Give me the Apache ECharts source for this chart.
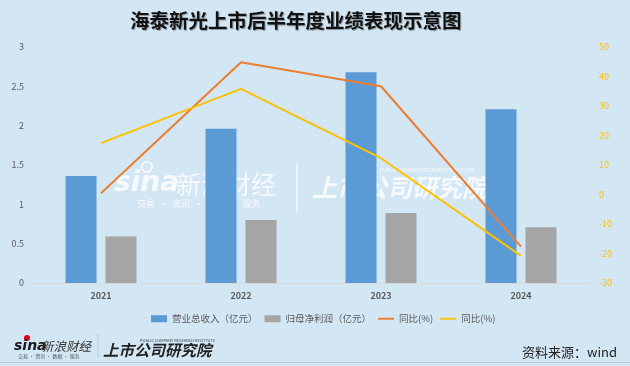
<!DOCTYPE html>
<html>
<head>
<meta charset="utf-8">
<script src="https://cdn.jsdelivr.net/npm/echarts@6/dist/echarts.min.js"></script>
<style>
html,body{margin:0;padding:0;background:#d3e6f4;}
#c{width:630px;height:366px;}
</style>
</head>
<body>
<div id="c"></div>
<script>
var categories = ['2021', '2022', '2023', '2024'];
var revenue = [1.36, 1.96, 2.68, 2.21];
var netProfit = [0.59, 0.80, 0.89, 0.71];
var revenueYoY = [0.4, 44.8, 36.7, -17.7];
var profitYoY = [17.4, 35.8, 12.3, -20.8];
var seriesNames = ['营业总收入（亿元）', '归母净利润（亿元）', '同比(%)', '同比(%) '];
var titleText = '海泰新光上市后半年度业绩表现示意图';
var sourceText = '资料来源：wind';

var FONT = '"Noto Sans CJK SC", "Noto Sans", sans-serif';
var wm = 'rgba(255,255,255,0.8)';
var lineIcon = 'path://M0,0 L17,0 L17,2 L0,2 Z';
var chart = echarts.init(document.getElementById('c'));
chart.setOption({
  backgroundColor: '#d3e6f4',
  textStyle: {fontFamily: FONT},
  title: {
    text: titleText, left: 125, top: 6,
    textStyle: {fontSize: 19.5, fontWeight: 'bold', color: '#111', fontFamily: FONT,
      textShadowColor: 'rgba(0,0,0,0.35)', textShadowBlur: 1, textShadowOffsetX: 1, textShadowOffsetY: 1}
  },
  grid: {left: 31, right: 39, top: 47, bottom: 83},
  legend: {
    left: 146, top: 309, itemWidth: 16, itemHeight: 7, itemGap: 7, symbolKeepAspect: true,
    textStyle: {fontSize: 9.5, color: '#595959', fontFamily: FONT},
    data: [
      {name: seriesNames[0], icon: 'rect'},
      {name: seriesNames[1], icon: 'rect'},
      {name: seriesNames[2], icon: lineIcon},
      {name: seriesNames[3], icon: lineIcon}
    ]
  },
  xAxis: {
    type: 'category', data: categories,
    axisLine: {lineStyle: {color: '#d9d9d9', width: 1}},
    axisTick: {show: false},
    axisLabel: {fontSize: 9, fontWeight: 'bold', color: '#595959', margin: 8}
  },
  yAxis: [
    {type: 'value', min: 0, max: 3, interval: 0.5,
      axisLine: {show: false}, axisTick: {show: false}, splitLine: {show: false},
      axisLabel: {fontSize: 9, color: '#595959', margin: 7}},
    {type: 'value', min: -30, max: 50, interval: 10,
      axisLine: {show: false}, axisTick: {show: false}, splitLine: {show: false},
      axisLabel: {fontSize: 9, color: '#ffc000', margin: 8}}
  ],
  series: [
    {name: seriesNames[0], type: 'bar', data: revenue, barWidth: 31, barGap: '29%',
      itemStyle: {color: '#5b9bd5'}, z: 2},
    {name: seriesNames[1], type: 'bar', data: netProfit, barWidth: 31,
      itemStyle: {color: '#a5a5a5'}, z: 2},
    {name: seriesNames[2], type: 'line', yAxisIndex: 1, data: revenueYoY, symbol: 'none', showSymbol: false,
      lineStyle: {color: '#ed7d31', width: 2}, itemStyle: {color: '#ed7d31'}, z: 3},
    {name: seriesNames[3], type: 'line', yAxisIndex: 1, data: profitYoY, symbol: 'none', showSymbol: false,
      lineStyle: {color: '#ffc000', width: 2}, itemStyle: {color: '#ffc000'}, z: 3}
  ],
  graphic: [
    // watermark (behind series)
    {type: 'circle', z: 0, shape: {cx: 147, cy: 167, r: 5}, style: {fill: 'none', stroke: wm, lineWidth: 2}},
    {type: 'text', z: 0, x: 114, y: 184, style: {text: 'sina', fontSize: 28, fontWeight: 'bold', fontStyle: 'italic', fontFamily: '"DejaVu Sans", sans-serif', fill: wm, textVerticalAlign: 'middle'}},
    {type: 'text', z: 0, x: 176, y: 184, style: {text: '新浪财经', fontSize: 25, fontFamily: FONT, fill: wm, textVerticalAlign: 'middle'}},
    {type: 'text', z: 0, x: 137, y: 204, style: {text: '交易  ·  资讯  ·  数据  ·  服务', fontSize: 9, fontFamily: FONT, fill: wm, textVerticalAlign: 'middle'}},
    {type: 'line', z: 0, shape: {x1: 297, y1: 163, x2: 297, y2: 212}, style: {stroke: wm, lineWidth: 1.5}},
    {type: 'text', z: 0, x: 312, y: 187, style: {text: '上市公司研究院', fontSize: 25, fontWeight: 'bold', fontStyle: 'italic', fontFamily: FONT, fill: wm, textVerticalAlign: 'middle'}},
    {type: 'text', z: 0, x: 380, y: 170, style: {text: 'PUBLIC COMPANY RESEARCH INSTITUTE', fontSize: 5, fontFamily: FONT, fill: wm, textVerticalAlign: 'middle'}},
    // footer
    {type: 'circle', shape: {cx: 27, cy: 338, r: 3}, style: {fill: '#e60012'}},
    {type: 'text', x: 14, y: 346, style: {text: 'sina', fontSize: 14, fontWeight: 'bold', fontStyle: 'italic', fontFamily: '"DejaVu Sans", sans-serif', fill: '#1a1a1a', textVerticalAlign: 'middle'}},
    {type: 'text', x: 41, y: 346, style: {text: '新浪财经', fontSize: 12.5, fontStyle: 'italic', fontFamily: FONT, fill: '#333', textVerticalAlign: 'middle'}},
    {type: 'text', x: 18, y: 356, style: {text: '交易 · 资讯 · 数据 · 服务', fontSize: 5, fontFamily: FONT, fill: '#555', textVerticalAlign: 'middle'}},
    {type: 'line', shape: {x1: 98, y1: 334, x2: 98, y2: 358}, style: {stroke: '#b9c9d6', lineWidth: 1}},
    {type: 'text', x: 103, y: 350, style: {text: '上市公司研究院', fontSize: 15.5, fontWeight: 'bold', fontStyle: 'italic', fontFamily: FONT, fill: '#222', textVerticalAlign: 'middle'}},
    {type: 'text', x: 140, y: 340, style: {text: 'PUBLIC COMPANY RESEARCH INSTITUTE', fontSize: 4, fontFamily: FONT, fill: '#444', textVerticalAlign: 'middle'}},
    {type: 'text', x: 617, y: 352, style: {text: sourceText, fontSize: 13, fontFamily: FONT, fill: '#222', textAlign: 'right', textVerticalAlign: 'middle'}},
    {type: 'line', shape: {x1: 0, y1: 362.5, x2: 630, y2: 362.5}, style: {stroke: '#b4c8d8', lineWidth: 1}}
  ]
});
</script>
</body>
</html>
